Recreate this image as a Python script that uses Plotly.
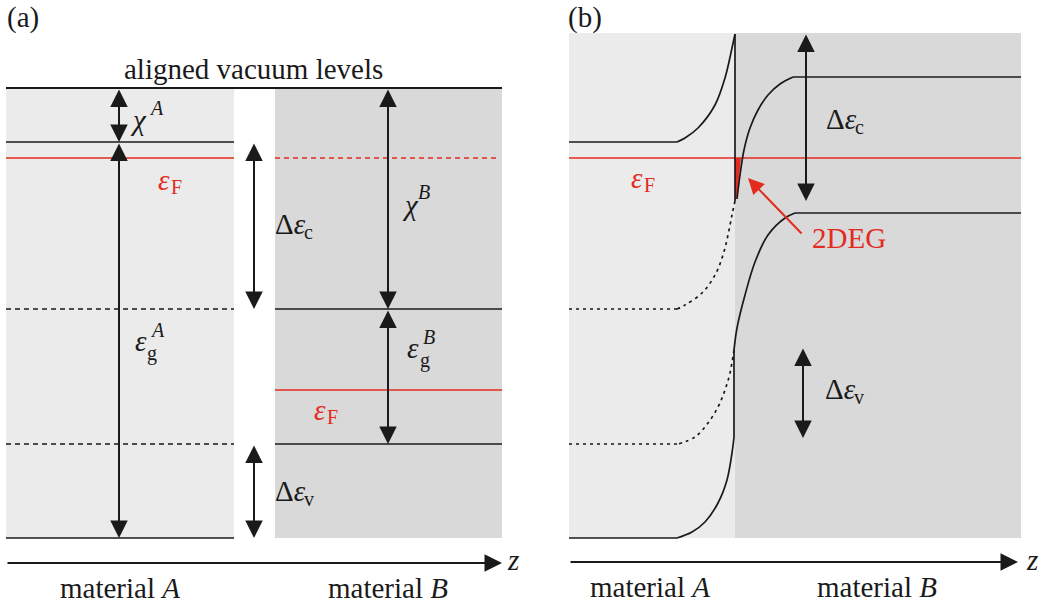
import plotly.graph_objects as go

W, H = 1043, 606
BLACK = "#1a1a1a"
RED = "#e32b1e"
LIGHT = "#ebebeb"
DARK = "#d9d9d9"
FONT = "'Liberation Serif', 'Times New Roman', Times, serif"
FS = 29

# ---------------- panel (a): isolated materials, aligned vacuum levels ----------------
a_span_A = [6, 234]
a_span_B = [275, 502]
a_top, a_bottom = 88, 538
a_vacuum = 88
a_cb_A = 142
a_fermi_A = 158
a_cb_B = 309
a_fermi_B = 390
a_vb_B = 444
a_vb_A = 538
a_axis_y = 563
a_axis_x = [6, 502]
a_arrow_x_A = 119
a_arrow_x_mid = 254
a_arrow_x_B = 388

# ---------------- panel (b): heterojunction in contact ----------------
b_span_A = [569, 735]
b_span_B = [735, 1021]
b_top, b_bottom = 33, 538
b_fermi = 158
b_axis_y = 562
b_axis_x = [569, 1018]

# flat band edges far from the interface
b_cbA_flat = ([569, 677], 142)
b_cbB_flat = ([793, 1021], 77)
b_vbB_flat = ([795, 1021], 213)
b_vbA_flat = ([569, 677], 538)
b_cbA_ext_flat = ([569, 677], 309)
b_vbA_ext_flat = ([569, 678], 444)

# bent band edges near the interface
cbA_x = [677, 685, 698, 715, 725, 732, 735]
cbA_y = [142, 138, 128, 105, 78, 48, 34]
spike_x = [735, 735]
spike_y = [34, 201]
cbB_x = [737, 740, 744, 750, 758, 768, 780, 793]
cbB_y = [199, 175, 150, 128, 110, 95, 84, 77]
cbA_ext_x = [735, 732, 728, 723, 715, 702, 685, 677]
cbA_ext_y = [201, 215, 235, 255, 275, 293, 305, 309]
vbB_x = [795, 785, 768, 755, 745, 737, 734]
vbB_y = [213, 218, 235, 262, 295, 328, 350]
vb_step_x = [734, 734]
vb_step_y = [350, 437]
vbA_x = [734, 732, 727, 718, 705, 692, 677]
vbA_y = [437, 453, 480, 503, 522, 532, 538]
vbA_ext_x = [734, 730, 725, 718, 708, 695, 678]
vbA_ext_y = [350, 373, 390, 407, 423, 437, 444]
deg_x = [735, 741, 737, 735]
deg_y = [158, 158, 197, 200]
b_dEc_x, b_dEc_y = 806, [33, 201]
b_dEv_x, b_dEv_y = 803, [347, 438]
deg_arrow_tail = (803, 235)
deg_arrow_head = (748, 178)

fig = go.Figure()


def line(xs, ys, color=BLACK, width=1.7, dash="solid", shape="linear"):
    fig.add_trace(go.Scatter(x=xs, y=ys, mode="lines", hoverinfo="skip",
                             line=dict(color=color, width=width, dash=dash, shape=shape, smoothing=1.0)))


def hline(y, span, **kw):
    line([span[0], span[1]], [y, y], **kw)


shapes = []
for span, top, bot, col in [(a_span_A, a_top, a_bottom, LIGHT), (a_span_B, a_top, a_bottom, DARK),
                            (b_span_A, b_top, b_bottom, LIGHT), (b_span_B, b_top, b_bottom, DARK)]:
    shapes.append(dict(type="rect", xref="x", yref="y", x0=span[0], x1=span[1], y0=top, y1=bot,
                       fillcolor=col, line=dict(width=0), layer="below"))

# panel (a) levels
hline(a_vacuum, [a_span_A[0], a_span_B[1]], width=2)
hline(a_cb_A, a_span_A)
hline(a_fermi_A, a_span_A, color=RED)
hline(a_cb_B, a_span_A, dash="5px,4px")
hline(a_vb_B, a_span_A, dash="5px,4px")
hline(a_vb_A, a_span_A)
hline(a_fermi_A, [a_span_B[0], a_span_B[1] - 4], color=RED, dash="5px,4px")
hline(a_cb_B, a_span_B)
hline(a_fermi_B, a_span_B, color=RED)
hline(a_vb_B, a_span_B)

# panel (b) bands
fig.add_trace(go.Scatter(x=deg_x, y=deg_y, mode="lines", fill="toself", fillcolor=RED,
                         line=dict(width=0, color=RED), hoverinfo="skip"))
hline(b_fermi, [b_span_A[0], b_span_B[1]], color=RED)
for (span, y), dash in [(b_cbA_flat, "solid"), (b_cbB_flat, "solid"), (b_vbB_flat, "solid"),
                        (b_vbA_flat, "solid"), (b_cbA_ext_flat, "3px,4px"), (b_vbA_ext_flat, "3px,4px")]:
    hline(y, span, dash=dash)
line(cbA_x, cbA_y, shape="spline")
line(spike_x, spike_y)
line(cbB_x, cbB_y, shape="spline")
line(cbA_ext_x, cbA_ext_y, dash="3px,4px", shape="spline")
line(vbB_x, vbB_y, shape="spline")
line(vb_step_x, vb_step_y)
line(vbA_x, vbA_y, shape="spline")
line(vbA_ext_x, vbA_ext_y, dash="3px,4px", shape="spline")

ann = []


def arrow(x0, y0, x1, y1, both=True, color=BLACK, width=2, size=1.75):
    ann.append(dict(x=x1, y=y1, ax=x0, ay=y0, xref="x", yref="y", axref="x", ayref="y",
                    text="", showarrow=True, arrowhead=2, startarrowhead=2,
                    arrowside="end+start" if both else "end",
                    arrowsize=size, startarrowsize=size, arrowwidth=width, arrowcolor=color,
                    standoff=0, startstandoff=0))


def text(x, y, s, color=BLACK, size=FS, xanchor="left"):
    ann.append(dict(x=x, y=y, xref="x", yref="y", text=s, showarrow=False,
                    xanchor=xanchor, yanchor="middle",
                    font=dict(family=FONT, size=size, color=color)))


# arrows (a)
arrow(a_arrow_x_A, a_vacuum, a_arrow_x_A, a_cb_A)
arrow(a_arrow_x_A, a_cb_A, a_arrow_x_A, a_vb_A)
arrow(a_arrow_x_mid, a_cb_A, a_arrow_x_mid, a_cb_B)
arrow(a_arrow_x_mid, a_vb_B, a_arrow_x_mid, a_bottom)
arrow(a_arrow_x_B, a_vacuum, a_arrow_x_B, a_cb_B)
arrow(a_arrow_x_B, a_cb_B, a_arrow_x_B, a_vb_B)
arrow(a_axis_x[0], a_axis_y, a_axis_x[1], a_axis_y, both=False)
# arrows (b)
arrow(b_dEc_x, b_dEc_y[0], b_dEc_x, b_dEc_y[1])
arrow(b_dEv_x, b_dEv_y[0], b_dEv_x, b_dEv_y[1])
arrow(b_axis_x[0], b_axis_y, b_axis_x[1], b_axis_y, both=False)
arrow(deg_arrow_tail[0], deg_arrow_tail[1], deg_arrow_head[0], deg_arrow_head[1], both=False,
      color=RED, width=2, size=1.6)

# labels (a)
text(23, 17, "(a)", xanchor="center")
text(253, 69, "aligned vacuum levels", xanchor="center")
text(128, 120, "<i>χ</i>", size=FS)
text(147, 108, "<i>A</i>", size=20)
text(156, 180, "<i>ε</i>", color=RED)
text(169, 187, "F", color=RED, size=20)
text(133, 341, "<i>ε</i>")
text(145, 353, "g", size=20)
text(148, 330, "<i>A</i>", size=20)
text(273, 224, "Δ<i>ε</i>")
text(302, 232, "c", size=20)
text(400, 205, "<i>χ</i>")
text(416, 192, "<i>B</i>", size=20)
text(405, 348, "<i>ε</i>")
text(418, 360, "g", size=20)
text(421, 337, "<i>B</i>", size=20)
text(312, 410, "<i>ε</i>", color=RED)
text(325, 417, "F", color=RED, size=20)
text(273, 491, "Δ<i>ε</i>")
text(302, 499, "v", size=20)
text(513, 560, "<i>z</i>", xanchor="center")
text(120, 588, "material <i>A</i>", xanchor="center")
text(388, 588, "material <i>B</i>", xanchor="center")
# labels (b)
text(585, 17, "(b)", xanchor="center")
text(824, 119, "Δ<i>ε</i>")
text(853, 127, "c", size=20)
text(629, 178, "<i>ε</i>", color=RED)
text(642, 185, "F", color=RED, size=20)
text(849, 238, "2DEG", color=RED, xanchor="center")
text(823, 389, "Δ<i>ε</i>")
text(852, 397, "v", size=20)
text(1032, 560, "<i>z</i>", xanchor="center")
text(650, 587, "material <i>A</i>", xanchor="center")
text(877, 587, "material <i>B</i>", xanchor="center")

fig.update_layout(
    width=W, height=H, margin=dict(l=0, r=0, t=0, b=0),
    paper_bgcolor="white", plot_bgcolor="white", showlegend=False,
    xaxis=dict(range=[0, W], visible=False, fixedrange=True),
    yaxis=dict(range=[H, 0], visible=False, fixedrange=True),
    shapes=shapes, annotations=ann,
)
fig.write_html("out.html")
